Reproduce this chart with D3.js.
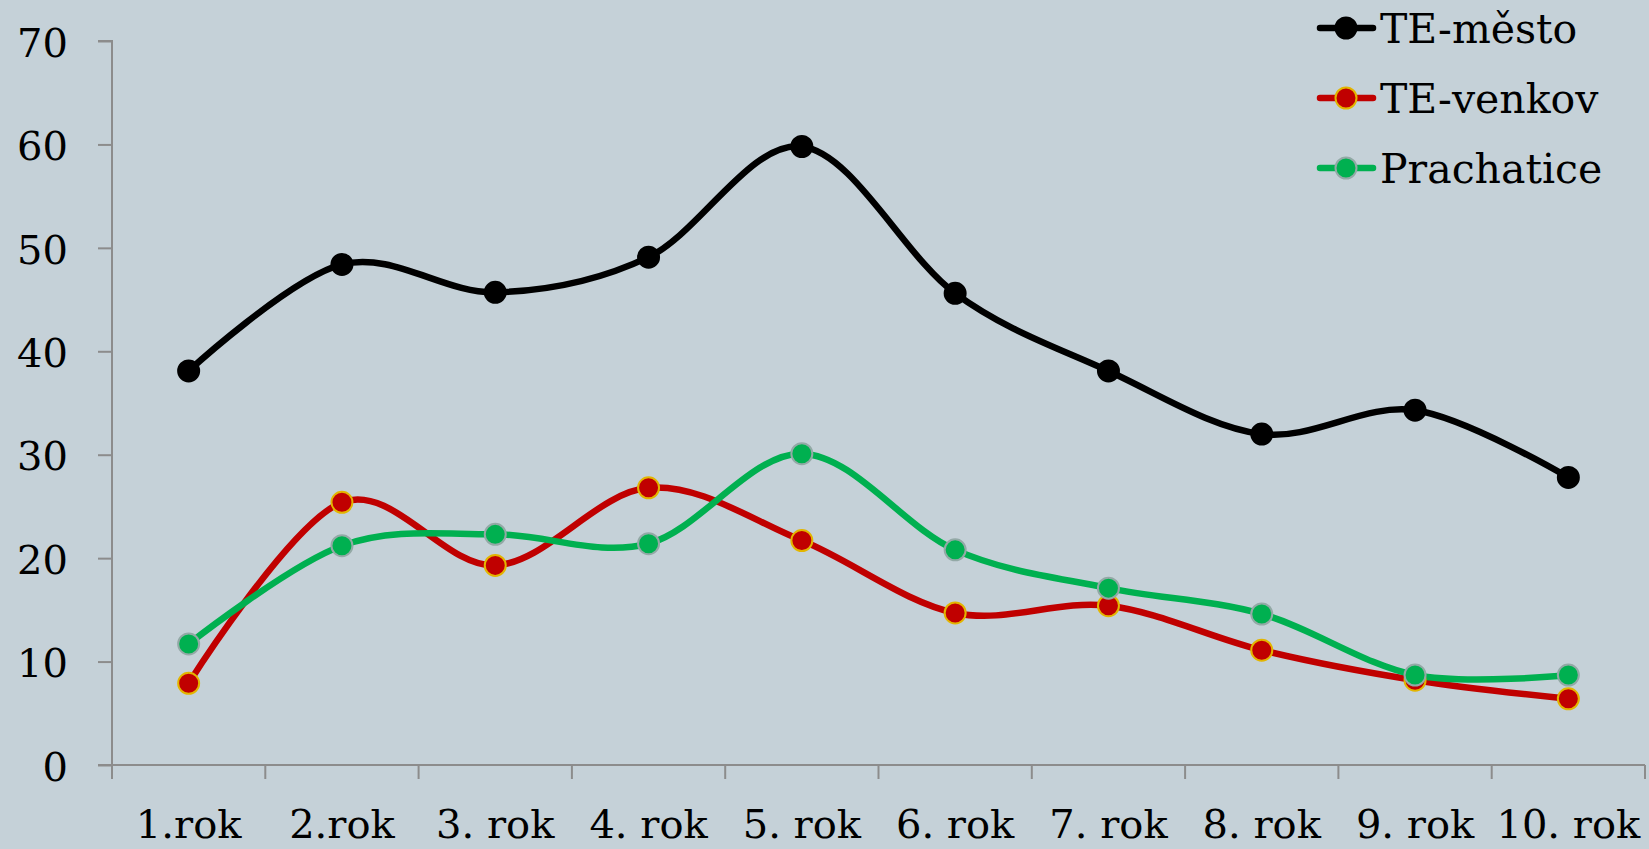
<!DOCTYPE html>
<html><head><meta charset="utf-8">
<script src="https://cdn.jsdelivr.net/npm/d3@7"></script>
<style>
html,body{margin:0;padding:0;background:#C5D1D8;}
svg{display:block;}
text{font-family:"DejaVu Serif",serif;fill:#000;}
</style></head><body>
<svg id="chart" width="1649" height="849"></svg>
<script>
const categories = ["1.rok","2.rok","3. rok","4. rok","5. rok","6. rok","7. rok","8. rok","9. rok","10. rok"];
const teMesto   = [38.1, 48.4, 45.7, 49.1, 59.8, 45.6, 38.1, 32.0, 34.3, 27.8];
const teVenkov  = [7.9, 25.4, 19.3, 26.8, 21.7, 14.7, 15.4, 11.1, 8.2, 6.4];
const prachatice= [11.7, 21.2, 22.3, 21.4, 30.1, 20.8, 17.1, 14.6, 8.7, 8.7];
const yTicks = [0,10,20,30,40,50,60,70];
const seriesNames = ["TE-město","TE-venkov","Prachatice"];

const series = [
  {name: seriesNames[0], values: teMesto,    line:"#000000", fill:"#000000", stroke:"#000000"},
  {name: seriesNames[1], values: teVenkov,   line:"#C00000", fill:"#C00000", stroke:"#E3B500"},
  {name: seriesNames[2], values: prachatice, line:"#00B050", fill:"#00B050", stroke:"#93A9A6"}
];

const svg = d3.select("#chart");
const mLeft = 112, mRight = 1645, mTop = 41, mBottom = 765;

const x = d3.scaleBand().domain(categories).range([mLeft, mRight]).padding(0);
const y = d3.scaleLinear().domain([0,70]).range([mBottom, mTop]);

// Y axis
const yAxis = svg.append("g").attr("transform", `translate(${mLeft},0)`)
  .call(d3.axisLeft(y).tickValues(yTicks).tickSize(14).tickPadding(30).tickFormat(d3.format("d")));
yAxis.select(".domain").attr("stroke","#8C8C8C").attr("stroke-width",2).attr("d",`M-14,${mTop}H0V${mBottom}`);
yAxis.selectAll(".tick line").attr("stroke","#8C8C8C").attr("stroke-width",2);
yAxis.selectAll(".tick text").attr("font-size",40).attr("font-family","DejaVu Serif").attr("dy","0.38em");

// X axis
const xAxis = svg.append("g").attr("transform", `translate(0,${mBottom})`)
  .call(d3.axisBottom(x).tickSize(0).tickPadding(0));
xAxis.select(".domain").attr("stroke","#8C8C8C").attr("stroke-width",2).attr("d",`M${mLeft-14},0H${mRight}`);
xAxis.selectAll(".tick line").remove();
xAxis.selectAll(".tick text").attr("font-size",40).attr("font-family","DejaVu Serif").attr("y",73).attr("dy",0);
// category boundary ticks
const bounds = categories.map(c => x(c)).concat([mRight]);
xAxis.selectAll(".btick").data(bounds).enter().append("line")
  .attr("x1", d=>d).attr("x2", d=>d).attr("y1",0).attr("y2",14)
  .attr("stroke","#8C8C8C").attr("stroke-width",2);

const cx = c => x(c) + x.bandwidth()/2;
const line = d3.line().x((d,i)=>cx(categories[i])).y(d=>y(d)).curve(d3.curveCardinal.tension(0));

series.forEach(s => {
  svg.append("path").datum(s.values).attr("d", line)
    .attr("fill","none").attr("stroke", s.line).attr("stroke-width",6.5).attr("stroke-linecap","round");
});
series.forEach(s => {
  svg.append("g").selectAll("circle").data(s.values).enter().append("circle")
    .attr("cx",(d,i)=>cx(categories[i])).attr("cy", d=>y(d)).attr("r",10.5)
    .attr("fill", s.fill).attr("stroke", s.stroke).attr("stroke-width",2);
});

// Legend
const legend = svg.append("g");
series.forEach((s,i) => {
  const ly = 28 + i*70;
  const g = legend.append("g");
  g.append("line").attr("x1",1320).attr("x2",1373).attr("y1",ly).attr("y2",ly)
    .attr("stroke", s.line).attr("stroke-width",6.5).attr("stroke-linecap","round");
  g.append("circle").attr("cx",1346).attr("cy",ly).attr("r",10.5)
    .attr("fill", s.fill).attr("stroke", s.stroke).attr("stroke-width",2);
  g.append("text").attr("x",1380).attr("y",ly).attr("dy","0.36em")
    .attr("font-size",41).text(s.name);
});
</script>
</body></html>
